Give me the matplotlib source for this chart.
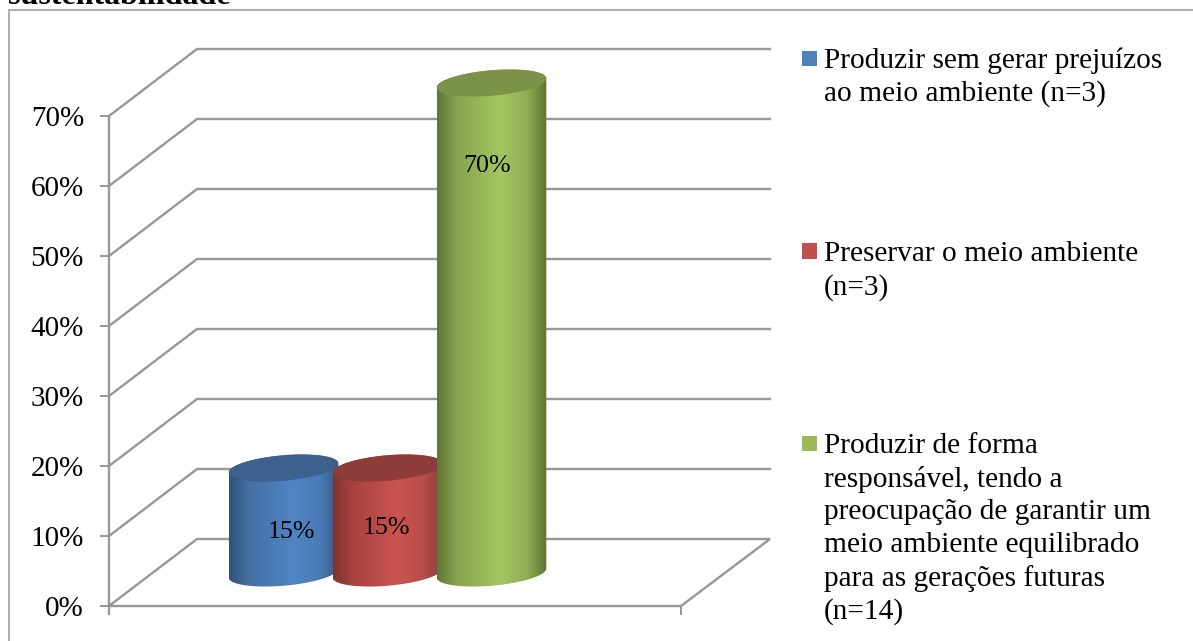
import numpy as np
import matplotlib
matplotlib.use('Agg')
import matplotlib.pyplot as plt
from matplotlib.colors import LinearSegmentedColormap
from matplotlib.patches import Polygon, Rectangle

##############################################################################
# DATA
values = [15, 15, 70]
value_labels = ['15%', '15%', '70%']
y_ticks = [0, 10, 20, 30, 40, 50, 60, 70]
y_tick_labels = ['0%', '10%', '20%', '30%', '40%', '50%', '60%', '70%']
legend_labels = ['Produzir sem gerar prejuízos\nao meio ambiente (n=3)',
                 'Preservar o meio ambiente\n(n=3)',
                 'Produzir de forma\nresponsável, tendo a\npreocupação de garantir um\nmeio ambiente equilibrado\npara as gerações futuras\n(n=14)']
title_tail = 'sustentabilidade'

##############################################################################
# STYLE
plt.rcParams['font.family'] = ['Liberation Serif', 'DejaVu Serif']
grid_color = '#979797'
frame_color = '#a6a6a6'
legend_colors = ['#4f81bd', '#c0504d', '#9bbb59']
# edge, mid, bright, mid, edge of each cylinder
shades = [['#2f5079', '#44709f', '#5084c6', '#4a7bb7', '#335a88'],
          ['#7e3532', '#a8423f', '#ca5450', '#b84d49', '#84403c'],
          ['#5f7537', '#88a451', '#a3c75f', '#90ae55', '#5c7232']]
top_colors = ['#3d608d', '#8e3c39', '#7a9349']

# geometry in pixels of the picture
px_per_unit = 7.0
y_zero = 606.0
x_front = 109.0
x_floor_end = 681.0
depth_x = 88.0
depth_y = 67.0 / px_per_unit
x_right = 770.0
bar_center = 283.5
bar_step = 104.0
bar_a = 55.0
bar_b = 12.7
bar_tilt = np.deg2rad(5)
bar_base = 33.0 / px_per_unit


def ellipse(xc, vc):
    t = np.linspace(0, 2*np.pi, 240, endpoint=False)
    dx = bar_a*np.cos(t)*np.cos(bar_tilt) - bar_b*np.sin(t)*np.sin(bar_tilt)
    dy = bar_a*np.cos(t)*np.sin(bar_tilt) + bar_b*np.sin(t)*np.cos(bar_tilt)
    return xc + dx, vc + dy/px_per_unit


##############################################################################
# PLOT
fig = plt.figure(figsize=(11.93, 6.41), dpi=100)
ax = fig.add_axes([0, 0, 1, 1])
ylim = (-(641 - y_zero)/px_per_unit, y_zero/px_per_unit)
ax.set_xlim(0, 1193)
ax.set_ylim(ylim)
ax.axis('off')

# outer frame, only left and top are in the crop
frame_top = (y_zero - 10)/px_per_unit
ax.plot([8.5, 8.5, 1193], [ylim[0], frame_top, frame_top], color=frame_color, lw=1.3,
        solid_joinstyle='miter')

# walls and grid
for v, lab in zip(y_ticks, y_tick_labels):
    if v > 0:
        ax.plot([x_front, x_front + depth_x, x_right], [v, v + depth_y, v + depth_y],
                color=grid_color, lw=1.7, solid_joinstyle='miter')
    ax.plot([x_front - 8, x_front], [v, v], color=grid_color, lw=1.4)
    ax.text(84, v, lab, ha='right', va='center_baseline', fontsize=21, color='black')
ax.plot([x_front, x_front], [-1.15, 70], color=grid_color, lw=1.7)

# floor
floor_x = [x_front, x_floor_end, x_right, x_front + depth_x, x_front]
floor_y = [0, 0, depth_y, depth_y, 0]
ax.plot(floor_x, floor_y, color=grid_color, lw=1.7, solid_joinstyle='miter')
ax.plot([x_floor_end, x_floor_end], [-1.2, 0], color=grid_color, lw=1.4)

# cylinders
for i, val in enumerate(values):
    xc = bar_center + bar_step*i
    x_top, y_top = ellipse(xc, bar_base + val)
    x_bot, y_bot = ellipse(xc, bar_base)
    il, ir = np.argmin(x_top), np.argmax(x_top)
    # walk upper arc of the top ellipse, then lower arc of the bottom one
    order = np.roll(np.arange(len(x_top)), -ir)
    k = np.where(order == il)[0][0]
    upper = order[:k + 1]
    lower = order[k:]
    outline = np.vstack([np.column_stack([x_top[upper], y_top[upper]]),
                         np.column_stack([x_bot[lower], y_bot[lower]])])
    cmap = LinearSegmentedColormap.from_list('cyl', list(zip([0, 0.18, 0.58, 0.82, 1], shades[i])))
    grad = np.linspace(0, 1, 256).reshape(1, -1)
    im = ax.imshow(grad, cmap=cmap, aspect='auto', zorder=3 + i,
                   extent=[xc - bar_a, xc + bar_a, y_bot.min(), y_top.max()])
    im.set_clip_path(Polygon(outline, closed=True, transform=ax.transData))
    ax.fill(x_top, y_top, color=top_colors[i], lw=0, zorder=3 + i)

# imshow resets the limits
ax.set_xlim(0, 1193)
ax.set_ylim(ylim)

# value labels
label_x = [291, 386, 487]
label_v = [10.9, 11.5, 63.2]
for i, txt in enumerate(value_labels):
    ax.text(label_x[i], label_v[i], txt, ha='center', va='center_baseline',
            fontsize=18.7, color='black', zorder=10)

# legend
legend_top = [47, 241, 433]
legend_box = [51, 243.5, 436]
for i, txt in enumerate(legend_labels):
    ax.add_patch(Rectangle((801.5, (y_zero - legend_box[i] - 15)/px_per_unit), 15, 15/px_per_unit,
                           color=legend_colors[i], lw=0))
    ax.text(824, (y_zero - legend_top[i])/px_per_unit, txt, ha='left', va='top',
            fontsize=21.2, linespacing=1.325, color='black')

# caption line above the frame, cut by the crop as in the source
ax.text(8, (y_zero - 3.5)/px_per_unit, title_tail, ha='left', va='baseline',
        fontsize=23, fontweight='bold', color='black')

plt.savefig('out.png', dpi=100)
plt.close()
